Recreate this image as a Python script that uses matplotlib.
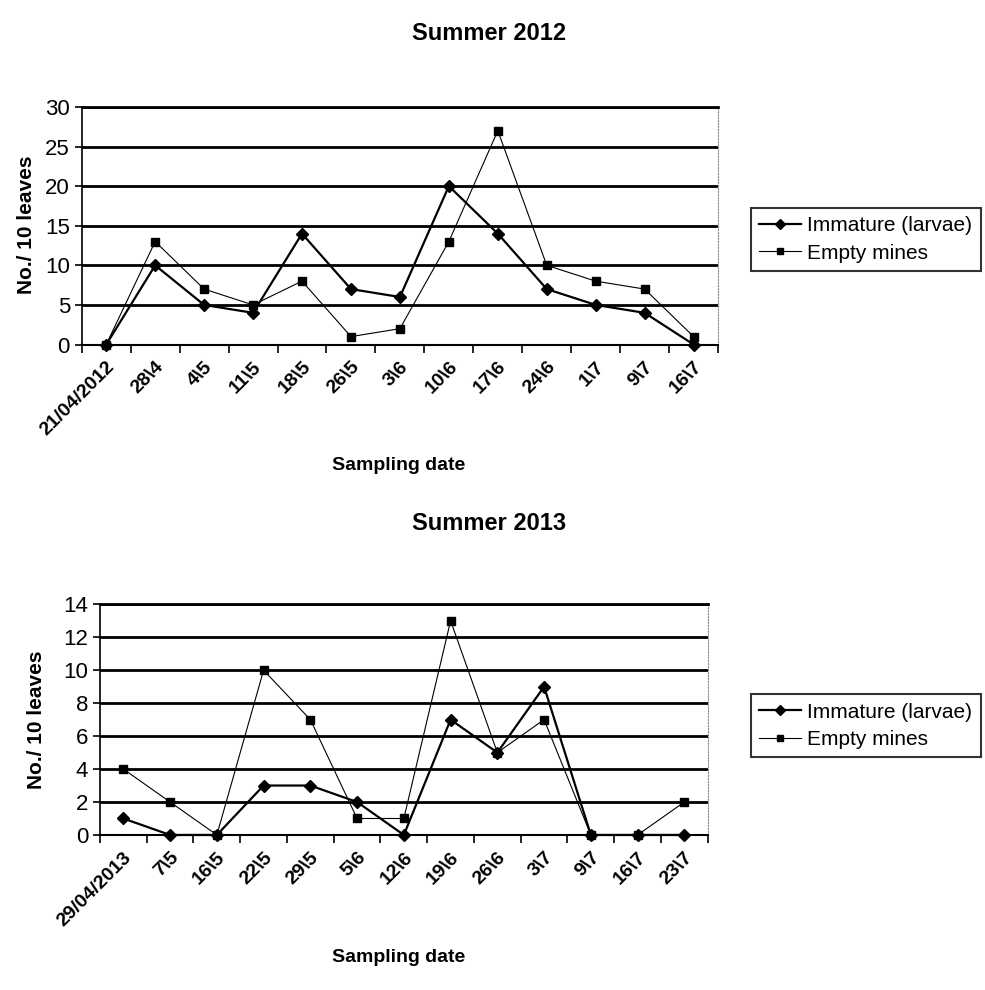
import numpy as np
import matplotlib
matplotlib.use("Agg")
import matplotlib.pyplot as plt

plt.rcParams['font.family'] = ['Liberation Sans Narrow', 'Liberation Sans', 'DejaVu Sans']

# ---- datos ----
fechas_2012 = ["21/04/2012", "28\\4", "4\\5", "11\\5", "18\\5", "26\\5", "3\\6",
               "10\\6", "17\\6", "24\\6", "1\\7", "9\\7", "16\\7"]
inmaduros_2012 = [0, 10, 5, 4, 14, 7, 6, 20, 14, 7, 5, 4, 0]
minas_2012 = [0, 13, 7, 5, 8, 1, 2, 13, 27, 10, 8, 7, 1]

fechas_2013 = ["29/04/2013", "7\\5", "16\\5", "22\\5", "29\\5", "5\\6", "12\\6",
               "19\\6", "26\\6", "3\\7", "9\\7", "16\\7", "23\\7"]
inmaduros_2013 = [1, 0, 0, 3, 3, 2, 0, 7, 5, 9, 0, 0, 0]
minas_2013 = [4, 2, 0, 10, 7, 1, 1, 13, 5, 7, 0, 0, 2]


def grafica(ax, fechas, inm, minas, ymax, paso):
    x = np.arange(len(fechas))
    ax.plot(x, inm, "-D", color="black", lw=1.6, ms=6, label="Immature (larvae)",
            clip_on=False, zorder=4)
    ax.plot(x, minas, "-s", color="black", lw=0.8, ms=6, label="Empty mines",
            clip_on=False, zorder=4)
    ax.set_xlim(-0.5, len(fechas) - 0.5)
    ax.set_ylim(0, ymax)
    ax.set_yticks(np.arange(0, ymax + 1, paso))
    ax.tick_params(axis="y", labelsize=16, direction="out", length=5, width=1.2)
    ax.set_xticks(x)
    ax.set_xticklabels(fechas, rotation=45, ha="right", va="top",
                       rotation_mode="anchor", fontsize=14, fontweight="bold")
    ax.tick_params(axis="x", which="major", length=0, pad=10)
    ax.set_xticks(np.arange(-0.5, len(fechas)), minor=True)
    ax.tick_params(axis="x", which="minor", direction="out", length=6, width=1.2)
    ax.grid(axis="y", color="black", lw=2)
    ax.set_axisbelow(True)
    ax.spines["left"].set_linewidth(1.2)
    ax.spines["bottom"].set_linewidth(1.5)
    ax.spines["top"].set_linewidth(2)
    ax.spines["right"].set_color("#888888")
    ax.spines["right"].set_linestyle(":")


fig = plt.figure(figsize=(9.85, 9.9), dpi=100)

ax1 = fig.add_axes([0.083, 0.652, 0.646, 0.240])
grafica(ax1, fechas_2012, inmaduros_2012, minas_2012, 30, 5)
ax2 = fig.add_axes([0.1015, 0.1566, 0.617, 0.233])
grafica(ax2, fechas_2013, inmaduros_2013, minas_2013, 14, 2)

fig.text(0.497, 0.966, "Summer 2012", ha="center", va="center", fontsize=17,
         fontweight="bold")
fig.text(0.497, 0.471, "Summer 2013", ha="center", va="center", fontsize=17,
         fontweight="bold")
fig.text(0.027, 0.773, "No./ 10 leaves", rotation=90, ha="center", va="center",
         fontsize=15, fontweight="bold")
fig.text(0.037, 0.273, "No./ 10 leaves", rotation=90, ha="center", va="center",
         fontsize=15, fontweight="bold")
fig.text(0.405, 0.530, "Sampling date", ha="center", va="center", fontsize=14,
         fontweight="bold")
fig.text(0.405, 0.033, "Sampling date", ha="center", va="center", fontsize=14,
         fontweight="bold")

for ax, y in [(ax1, 0.758), (ax2, 0.267)]:
    h, l = ax.get_legend_handles_labels()
    leg = fig.legend(h, l, loc="center left", bbox_to_anchor=(0.752, y),
                     fontsize=15, frameon=True, fancybox=False, markerscale=0.8,
                     handlelength=2.0, handletextpad=0.3, borderpad=0.4,
                     labelspacing=0.4)
    leg.get_frame().set_edgecolor("black")
    leg.get_frame().set_linewidth(1.5)

plt.savefig("out.png", dpi=100)
